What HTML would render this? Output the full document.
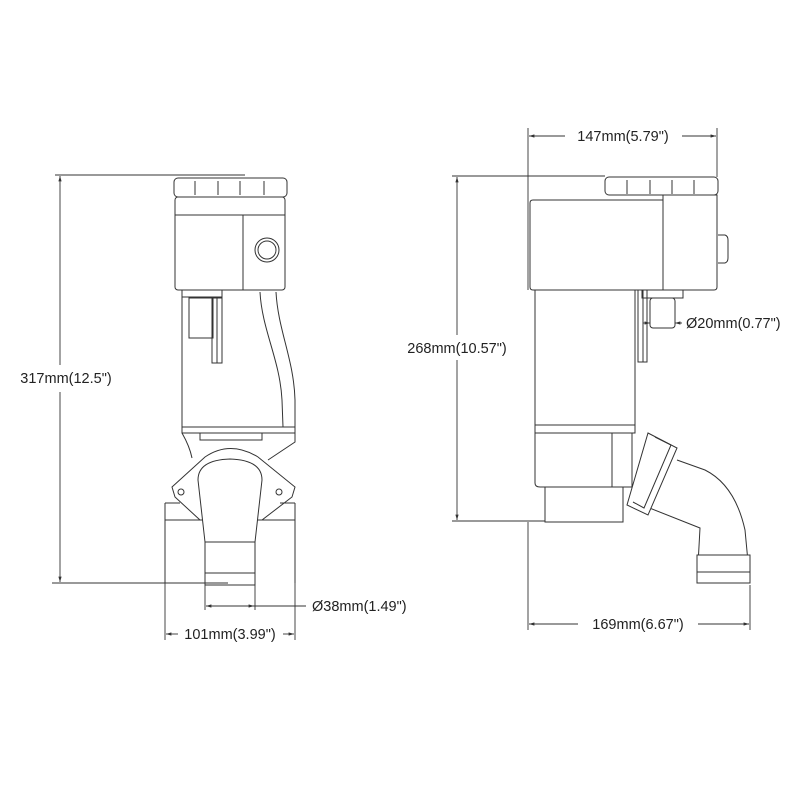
<!DOCTYPE html>
<html><head><meta charset="utf-8"><style>
html,body{margin:0;padding:0;background:#fff;width:800px;height:800px;overflow:hidden}
svg{display:block}
text{font-family:"Liberation Sans",Arial,sans-serif;font-size:14.5px;fill:#222}
</style></head><body>
<svg width="800" height="800" viewBox="0 0 800 800" xmlns="http://www.w3.org/2000/svg">
<defs>
<marker id="a" viewBox="0 0 10 10" refX="10" refY="5" markerWidth="6" markerHeight="6" orient="auto-start-reverse"><path d="M0,2 L10,5 L0,8z" fill="#333"/></marker>
</defs>
<g fill="none" stroke="#333" stroke-width="1">
<!-- LEFT PUMP -->
<rect x="174" y="178" width="113" height="19" rx="4"/>
<line x1="195" y1="181" x2="195" y2="195"/><line x1="218" y1="181" x2="218" y2="195"/><line x1="240" y1="181" x2="240" y2="195"/><line x1="264" y1="181" x2="264" y2="195"/>
<rect x="175" y="197" width="110" height="93" rx="3"/>
<line x1="175" y1="215" x2="285" y2="215"/>
<line x1="243" y1="215" x2="243" y2="290"/>
<circle cx="267" cy="250" r="12"/><circle cx="267" cy="250" r="9"/>
<path d="M182 290 L182 427 L280 427"/>
<path d="M182 290 L222 290 L222 297 L182 297"/>
<rect x="189" y="298" width="24" height="40"/>
<rect x="212" y="298" width="5" height="65"/><rect x="217" y="298" width="5" height="65"/>
<path d="M260 292 C262 330 280 360 282 400 L283 427"/>
<path d="M276 292 C278 330 294 360 295 400 L295 427"/>
<rect x="182" y="427" width="113" height="6"/>
<path d="M182 433 C186 440 190 448 192 458"/>
<path d="M295 433 L295 442 L268 460"/>
<rect x="200" y="433" width="62" height="7"/>
<path d="M172 487 L205 457 Q230 440 258 457 L295 487 L292 497 L262 520 L200 520 L175 497 Z"/>
<circle cx="181" cy="492" r="3"/><circle cx="279" cy="492" r="3"/>
<path d="M165 520 L165 583"/><path d="M295 520 L295 583"/>
<path d="M165 503 L180 503"/><path d="M280 503 L295 503"/>
<path d="M165 503 L165 520 L295 520 L295 503"/>
<path d="M205 542 L198 480 Q198 460 230 459 Q262 460 262 480 L255 542 Z" fill="#fff"/>
<rect x="205" y="542" width="50" height="43" fill="#fff"/>
<line x1="205" y1="573" x2="255" y2="573"/>
<!-- RIGHT PUMP -->
<rect x="605" y="177" width="113" height="18" rx="4"/>
<line x1="627" y1="180" x2="627" y2="194"/><line x1="650" y1="180" x2="650" y2="194"/><line x1="672" y1="180" x2="672" y2="194"/><line x1="694" y1="180" x2="694" y2="194"/>
<path d="M533 200 L663 200 L663 195 L717 195 L717 287 Q717 290 714 290 L533 290 Q530 290 530 287 L530 203 Q530 200 533 200Z"/>
<line x1="663" y1="200" x2="663" y2="290"/>
<path d="M718 235 L725 235 Q728 236 728 240 L728 258 Q728 262 725 263 L718 263"/>
<rect x="535" y="290" width="100" height="135"/>
<rect x="535" y="425" width="100" height="8"/>
<path d="M535 433 L535 483 Q535 487 540 487 L612 487 L612 433"/>
<rect x="545" y="487" width="78" height="35"/>
<rect x="612" y="433" width="20" height="54"/>
<rect x="642" y="290" width="41" height="8"/>
<rect x="650" y="298" width="25" height="30" rx="3"/>
<rect x="638" y="290" width="5" height="72"/><rect x="643" y="290" width="4" height="72"/>
<path d="M677 460 L705 470 Q735 485 745 530 L750 583 L697 583 L700 528 L647 507" fill="#fff"/>
<path d="M648 433 L677 448 L648 515 L627 505 Z" fill="#fff"/>
<path d="M655 437 L671 445 L644 508 L633 502"/>
<rect x="697" y="555" width="53" height="28" fill="#fff"/>
<line x1="697" y1="572" x2="750" y2="572"/>
</g>
<!-- DIMENSIONS -->
<g fill="none" stroke="#333" stroke-width="0.9">
<line x1="55" y1="175" x2="245" y2="175"/>
<line x1="52" y1="583" x2="228" y2="583"/>
<line x1="60" y1="176" x2="60" y2="365" marker-start="url(#a)"/>
<line x1="60" y1="392" x2="60" y2="582" marker-end="url(#a)"/>
<line x1="205" y1="585" x2="205" y2="610"/><line x1="255" y1="585" x2="255" y2="610"/>
<line x1="206" y1="606" x2="254" y2="606" marker-start="url(#a)" marker-end="url(#a)"/>
<line x1="254" y1="606" x2="306" y2="606"/>
<line x1="165" y1="583" x2="165" y2="640"/><line x1="295" y1="583" x2="295" y2="640"/>
<line x1="166" y1="634" x2="178" y2="634" marker-start="url(#a)"/>
<line x1="283" y1="634" x2="294" y2="634" marker-end="url(#a)"/>
<line x1="452" y1="176" x2="605" y2="176"/>
<line x1="452" y1="521" x2="545" y2="521"/>
<line x1="457" y1="177" x2="457" y2="335" marker-start="url(#a)"/>
<line x1="457" y1="360" x2="457" y2="520" marker-end="url(#a)"/>
<line x1="528" y1="128" x2="528" y2="290"/><line x1="717" y1="128" x2="717" y2="177"/>
<line x1="529" y1="136" x2="565" y2="136" marker-start="url(#a)"/>
<line x1="682" y1="136" x2="716" y2="136" marker-end="url(#a)"/>
<line x1="528" y1="522" x2="528" y2="630"/><line x1="750" y1="585" x2="750" y2="630"/>
<line x1="529" y1="624" x2="578" y2="624" marker-start="url(#a)"/>
<line x1="698" y1="624" x2="749" y2="624" marker-end="url(#a)"/>
<line x1="643" y1="323" x2="650" y2="323" marker-end="url(#a)"/>
<line x1="682" y1="323" x2="675" y2="323" marker-end="url(#a)"/>
</g>
<text x="66" y="383" text-anchor="middle">317mm(12.5")</text>
<text x="312" y="611">Ø38mm(1.49")</text>
<text x="230" y="639" text-anchor="middle">101mm(3.99")</text>
<text x="457" y="353" text-anchor="middle">268mm(10.57")</text>
<text x="623" y="141" text-anchor="middle">147mm(5.79")</text>
<text x="638" y="629" text-anchor="middle">169mm(6.67")</text>
<text x="686" y="328">Ø20mm(0.77")</text>
</svg>
</body></html>
